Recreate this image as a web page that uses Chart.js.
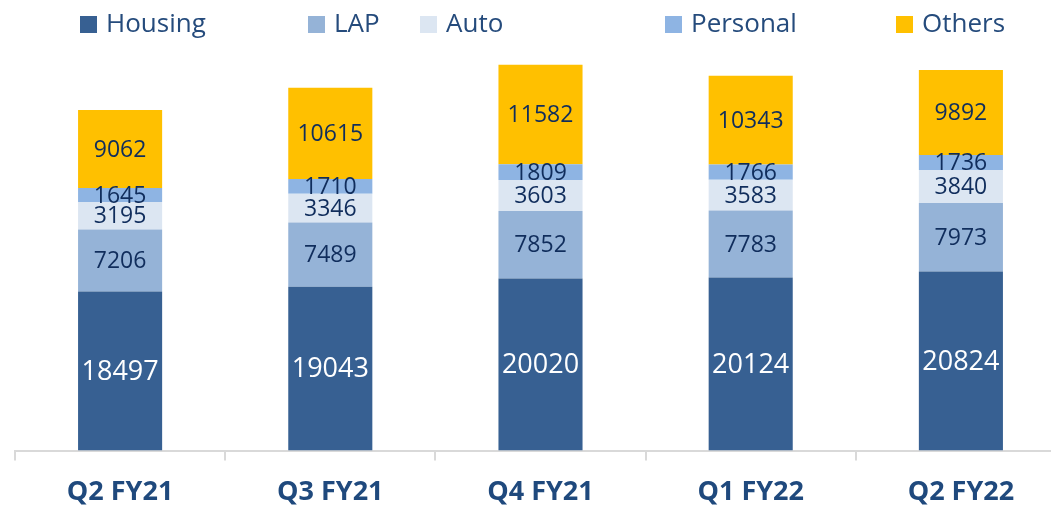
<!DOCTYPE html>
<html>
<head>
<meta charset="utf-8">
<script src="https://cdn.jsdelivr.net/npm/chart.js@4/dist/chart.umd.min.js"></script>
<style>
    html, body { margin: 0; padding: 0; background: #fff; overflow: hidden; }
    #wrap { position: relative; width: 1051px; height: 512px; overflow: hidden; }
    #myChart { position: absolute; left: 0; top: 0; }
    .legend-item {
        position: absolute; top: 2px; height: 40px;
        font-family: "Open Sans", "Noto Sans", sans-serif; font-size: 26px;
        color: #254b7c; white-space: nowrap; line-height: 40px;
    }
    .legend-item span.box {
        display: inline-block; width: 17px; height: 17px; margin-right: 9px;
        vertical-align: -1px;
    }
</style>
</head>
<body>
<div id="wrap">
    <canvas id="myChart" width="1066" height="531"></canvas>
</div>
<script>
// quarters and loan book by segment
const quarters = ['Q2 FY21', 'Q3 FY21', 'Q4 FY21', 'Q1 FY22', 'Q2 FY22'];
const housing = [18497, 19043, 20020, 20124, 20824];
const lap = [7206, 7489, 7852, 7783, 7973];
const auto = [3195, 3346, 3603, 3583, 3840];
const personal = [1645, 1710, 1809, 1766, 1736];
const others = [9062, 10615, 11582, 10343, 9892];

const seriesNames = ['Housing', 'LAP', 'Auto', 'Personal', 'Others'];
const seriesColors = ['#376092', '#95b3d7', '#dce6f2', '#8eb4e3', '#ffc000'];
const legendX = [80, 308, 420, 665, 896];

// legend row above the chart
const wrap = document.getElementById('wrap');
seriesNames.forEach((name, i) => {
    const item = document.createElement('div');
    item.className = 'legend-item';
    item.style.left = legendX[i] + 'px';
    item.innerHTML = `<span class="box" style="background:${seriesColors[i]}"></span>${name}`;
    wrap.appendChild(item);
});

// writes each segment's value in its middle
const segmentLabels = {
    id: 'segmentLabels',
    afterDatasetsDraw(chart) {
        const ctx = chart.ctx;
        ctx.save();
        ctx.textAlign = 'center';
        ctx.textBaseline = 'middle';
        chart.data.datasets.forEach((ds, di) => {
            const meta = chart.getDatasetMeta(di);
            meta.data.forEach((bar, i) => {
                const mid = (bar.y + bar.base) / 2;
                if (di === 0) {
                    ctx.fillStyle = '#ffffff';
                    ctx.font = '27px "Open Sans", "Noto Sans", sans-serif';
                } else {
                    ctx.fillStyle = '#102d5c';
                    ctx.font = '23px "Open Sans", "Noto Sans", sans-serif';
                }
                ctx.fillText(ds.data[i], bar.x, mid + 1);
            });
        });
        ctx.restore();
    }
};

const valueLists = [housing, lap, auto, personal, others];

const data = {
    labels: quarters,
    datasets: valueLists.map((values, i) => ({
        label: seriesNames[i],
        data: values,
        backgroundColor: seriesColors[i],
        borderWidth: 0,
        categoryPercentage: 0.4,
        barPercentage: 1
    }))
};

const options = {
    responsive: false,
    animation: false,
    layout: { padding: { top: 55, left: 15, right: 0, bottom: 6 } },
    plugins: {
        legend: { display: false },
        tooltip: { enabled: false }
    },
    scales: {
        x: {
            stacked: true,
            border: { color: '#d9d9d9', width: 2 },
            grid: {
                offset: true,
                drawOnChartArea: false,
                color: '#d9d9d9',
                lineWidth: 2,
                tickLength: 10
            },
            ticks: {
                color: '#1f497d',
                padding: 16,
                font: { family: '"Open Sans", "Noto Sans", sans-serif', size: 27, weight: 'bold' }
            }
        },
        y: {
            stacked: true,
            display: false,
            min: 0,
            max: 46000
        }
    }
};

const ctx = document.getElementById('myChart').getContext('2d');
new Chart(ctx, { type: 'bar', data: data, options: options, plugins: [segmentLabels] });
</script>
</body>
</html>
